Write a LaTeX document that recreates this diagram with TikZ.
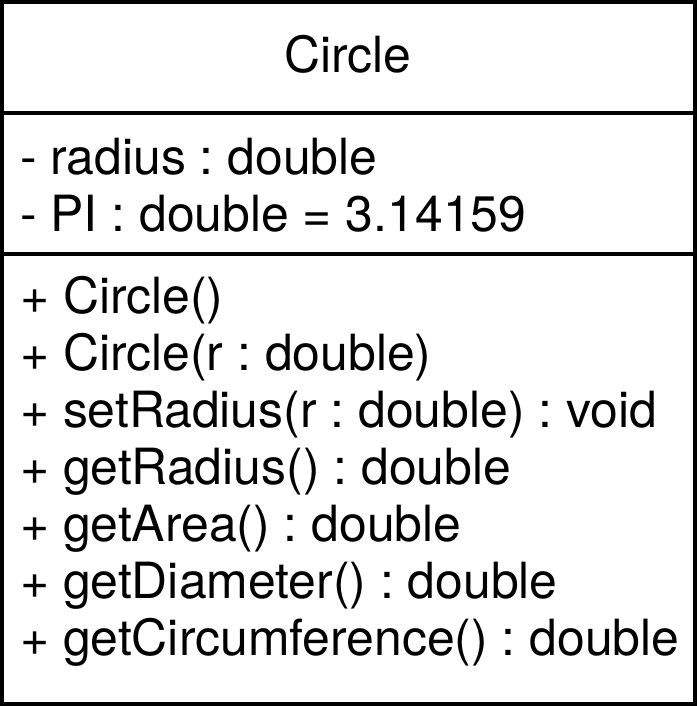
\documentclass[tikz,border=0pt]{standalone}
\usepackage{fontspec}
\setmainfont{TeX Gyre Heros}
\frenchspacing
\tikzset{
  umltext/.style={anchor=base west, inner sep=0pt, outer sep=0pt, font=\fontsize{49.9}{57}\selectfont},
  umltitle/.style={anchor=base, inner sep=0pt, outer sep=0pt, font=\fontsize{49.9}{57}\selectfont},
  frame/.style={draw=black, line width=4pt}
}
\begin{document}
\begin{tikzpicture}[x=1pt,y=-1pt]
  \useasboundingbox (0,0) rectangle (697,706);
  \draw[frame] (2,2) rectangle (694.5,703.5);
  \draw[frame] (2,113) -- (694.5,113);
  \draw[frame] (2,254) -- (694.5,254);
  \node[umltitle] (title) at (348,73) {Circle};
  \node[umltext] (a1) at (20,174) {- radius : double};
  \node[umltext] (a2) at (20,231) {- PI : double = 3.14159};
  \node[umltext] (m1) at (20,313) {+ Circle()};
  \node[umltext] (m2) at (20,370) {+ Circle(r : double)};
  \node[umltext] (m3) at (20,427) {+ setRadius(r : double) : void};
  \node[umltext] (m4) at (20,484) {+ getRadius() : double};
  \node[umltext] (m5) at (20,541) {+ getArea() : double};
  \node[umltext] (m6) at (20,598) {+ getDiameter() : double};
  \node[umltext] (m7) at (20,655) {+ getCircumference() : double};
\end{tikzpicture}
\end{document}
